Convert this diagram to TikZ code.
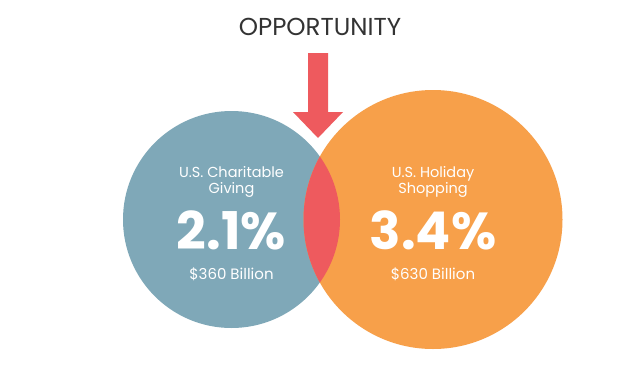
\documentclass[tikz,border=0pt]{standalone}
\usepackage{fontspec}
\setmainfont{Poppins}
\definecolor{cblue}{RGB}{127,168,184}
\definecolor{corange}{RGB}{247,160,74}
\definecolor{cred}{RGB}{238,90,94}
\definecolor{ctitle}{RGB}{51,51,51}
\begin{document}
\begin{tikzpicture}[x=1pt,y=-1pt,
  lbl/.style={text=white,font=\fontsize{14.5}{17}\selectfont,anchor=base,inner sep=0pt},
  big/.style={text=white,font=\fontsize{52}{52}\selectfont\bfseries,anchor=base,inner sep=0pt},
  amt/.style={text=white,font=\fontsize{15}{18}\selectfont,anchor=base,inner sep=0pt}]
\useasboundingbox (0,0) rectangle (640,370);
\fill[white] (0,0) rectangle (640,370);
% circles
\fill[cblue] (231.5,219.5) circle[radius=108.5];
\fill[corange] (433,219.5) circle[radius=129.5];
\begin{scope}
  \clip (231.5,219.5) circle[radius=108.5];
  \fill[cred] (433,219.5) circle[radius=129.5];
\end{scope}
% arrow
\fill[cred] (308,53) -- (328,53) -- (328,112) -- (343,112) -- (318,138) -- (293,112) -- (308,112) -- cycle;
% title
\node[text=ctitle,font=\fontsize{24.5}{27}\selectfont,anchor=base,inner sep=0pt] (title) at (320,35) {OPPORTUNITY};
% left texts
\node[lbl] (l1) at (231.5,177) {U.S. Charitable};
\node[lbl] (l2) at (231.5,193) {Giving};
\node[big] (l3) at (231.5,249) {2.1\%};
\node[amt] (l4) at (231.5,279) {\$360 Billion};
% right texts
\node[lbl] (r1) at (433,177) {U.S. Holiday};
\node[lbl] (r2) at (433,193) {Shopping};
\node[big] (r3) at (433,249) {3.4\%};
\node[amt] (r4) at (433,279) {\$630 Billion};
\end{tikzpicture}
\end{document}
